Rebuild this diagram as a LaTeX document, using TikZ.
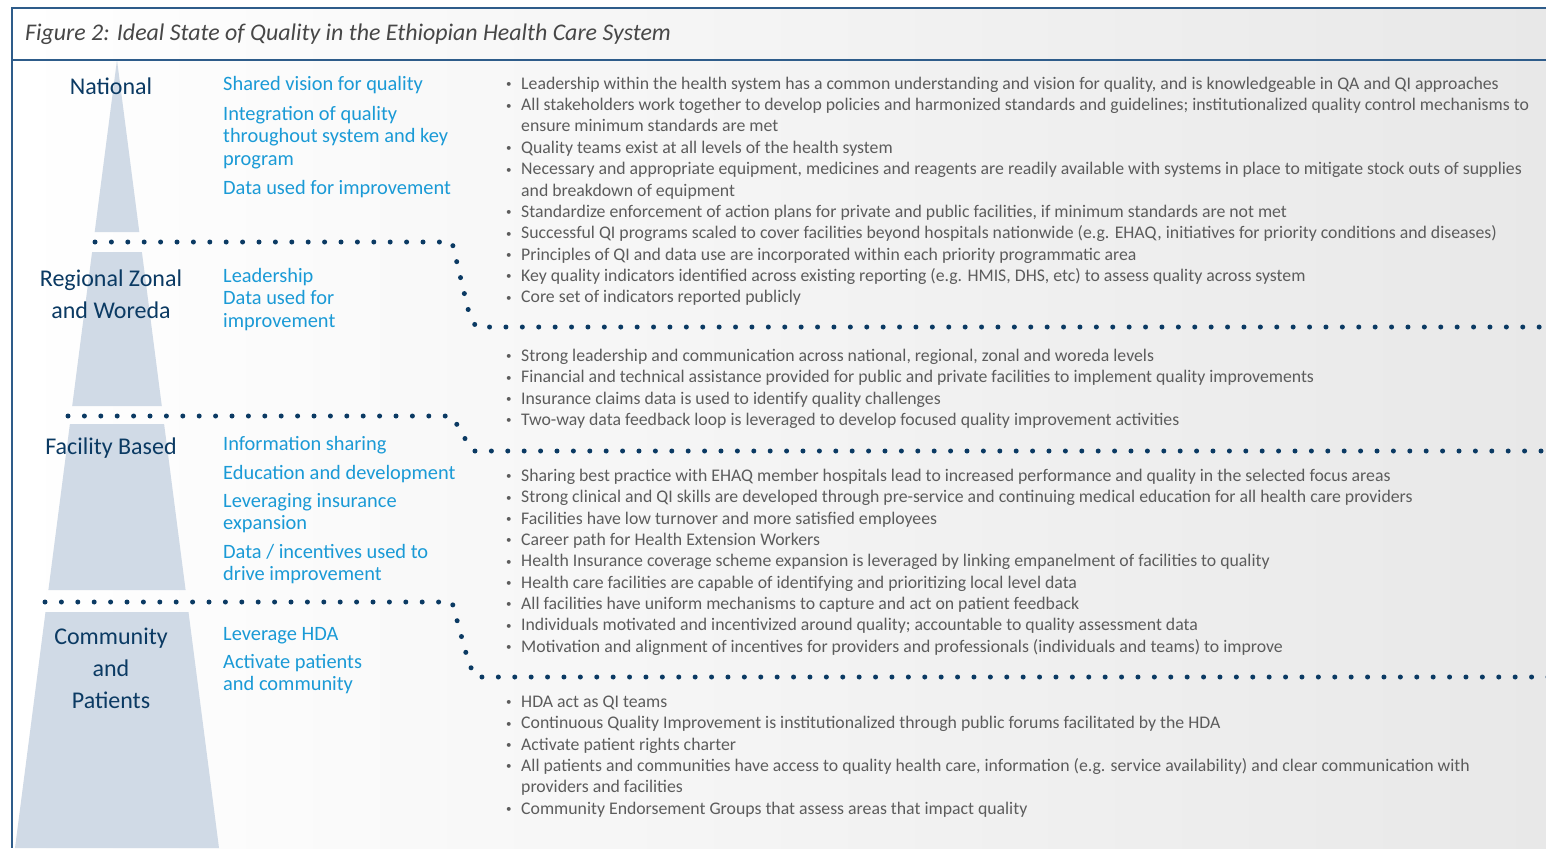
\documentclass[tikz,border=0pt]{standalone}
\usepackage{fontspec}
\setmainfont{Carlito}
\definecolor{navy}{HTML}{0B3A63}
\definecolor{qblue}{HTML}{1A9AD6}
\definecolor{txtgray}{HTML}{5C5C5C}
\definecolor{tri}{HTML}{D0DAE6}
\definecolor{framec}{HTML}{2E5C8A}
\newcommand\bul{\makebox[15pt][l]{\fontsize{11}{11}\selectfont\raisebox{1.5pt}{•}}}
\begin{document}
\begin{tikzpicture}[x=1pt,y=-1pt,
  levellabel/.style={align=center,anchor=base,text=navy,font=\fontsize{24}{32}\selectfont,inner sep=0pt},
  blueitem/.style={align=left,anchor=base west,text=qblue,font=\fontsize{20.4}{22.5}\selectfont,inner sep=0pt},
  bullets/.style={anchor=base west,text=txtgray,font=\fontsize{17.75}{21.35}\selectfont,inner sep=0pt},
  dotline/.style={draw=navy,line width=5pt,line cap=round,dash pattern=on 0pt off 16.4pt},
  tribox/.style={fill=tri,draw=none},
  framel/.style={draw=framec,line width=1.5pt}]
\useasboundingbox (0,0) rectangle (1546,848);
\fill[white] (0,0) rectangle (1546,848);
\shade[left color=white,right color=black!9] (12,8) rectangle (1546,848);
% pyramid
\fill[tribox] (117,60) -- (139.3,232) -- (94.7,232) -- cycle;
\fill[tribox] (92.1,252) -- (141.9,252) -- (161.8,406) -- (72.2,406) -- cycle;
\fill[tribox] (69.9,424) -- (164.1,424) -- (185.6,590) -- (48.4,590) -- cycle;
\fill[tribox] (45.5,612) -- (188.5,612) -- (219,848) -- (15,848) -- cycle;
% frame
\draw[framel] (1546,8) -- (12,8) -- (12,848);
\draw[framel] (12,60) -- (1546,60);
% title
\node[anchor=base west,inner sep=0pt,text=black!72,font=\itshape\fontsize{23.9}{28}\selectfont] (title) at (25,41)
  {Figure 2: Ideal State of Quality in the Ethiopian Health Care System};
% dotted separators
\coordinate (d1a) at (95,242); \coordinate (d1b) at (452,242); \coordinate (d1c) at (469,313); \coordinate (d1d) at (476,327); \coordinate (d1e) at (1552,327);
\coordinate (d2a) at (68,416); \coordinate (d2b) at (452,416); \coordinate (d2c) at (467,442); \coordinate (d2d) at (474,451); \coordinate (d2e) at (1552,451);
\coordinate (d3a) at (45,602); \coordinate (d3b) at (452,602); \coordinate (d3c) at (469,664); \coordinate (d3d) at (476,677); \coordinate (d3e) at (1552,677);
\draw[dotline] (d1a) -- (d1b) -- (d1c) -- (d1d) -- (d1e);
\draw[dotline] (d2a) -- (d2b) -- (d2c) -- (d2d) -- (d2e);
\draw[dotline] (d3a) -- (d3b) -- (d3c) -- (d3d) -- (d3e);
% level labels (base anchor = last line baseline)
\node[levellabel] (lnat) at (111,95) {National};
\node[levellabel] (lreg) at (111,318) {Regional Zonal\\and Woreda};
\node[levellabel] (lfac) at (111,454) {Facility Based};
\node[levellabel] (lcom) at (111,708) {Community\\and\\Patients};
% blue items (base anchor = last line baseline)
\node[blueitem] (b1) at (223,91) {Shared vision for quality};
\node[blueitem] (b2) at (223,165) {Integration of quality\\throughout system and key\\program};
\node[blueitem] (b3) at (223,194) {Data used for improvement};
\node[blueitem] (b4) at (223,327) {Leadership\\Data used for\\improvement};
\node[blueitem] (b5) at (223,450) {Information sharing};
\node[blueitem] (b6) at (223,479) {Education and development};
\node[blueitem] (b7) at (223,529.5) {Leveraging insurance\\expansion};
\node[blueitem] (b8) at (223,580.5) {Data / incentives used to\\drive improvement};
\node[blueitem] (b9) at (223,640) {Leverage HDA};
\node[blueitem] (b10) at (223,690.5) {Activate patients\\and community};
% bullet lists
\node[bullets] (s1) at (506,89.3) {\begin{tabular}[t]{@{}l@{}l@{}}
\bul & Leadership within the health system has a common understanding and vision for quality, and is knowledgeable in QA and QI approaches\\
\bul & All stakeholders work together to develop policies and harmonized standards and guidelines; institutionalized quality control mechanisms to\\
 & ensure minimum standards are met\\
\bul & Quality teams exist at all levels of the health system\\
\bul & Necessary and appropriate equipment, medicines and reagents are readily available with systems in place to mitigate stock outs of supplies\\
 & and breakdown of equipment\\
\bul & Standardize enforcement of action plans for private and public facilities, if minimum standards are not met\\
\bul & Successful QI programs scaled to cover facilities beyond hospitals nationwide (e.g. EHAQ, initiatives for priority conditions and diseases)\\
\bul & Principles of QI and data use are incorporated within each priority programmatic area\\
\bul & Key quality indicators identified across existing reporting (e.g. HMIS, DHS, etc) to assess quality across system\\
\bul & Core set of indicators reported publicly
\end{tabular}};
\node[bullets] (s2) at (506,361.3) {\begin{tabular}[t]{@{}l@{}l@{}}
\bul & Strong leadership and communication across national, regional, zonal and woreda levels\\
\bul & Financial and technical assistance provided for public and private facilities to implement quality improvements\\
\bul & Insurance claims data is used to identify quality challenges\\
\bul & Two-way data feedback loop is leveraged to develop focused quality improvement activities
\end{tabular}};
\node[bullets] (s3) at (506,481.3) {\begin{tabular}[t]{@{}l@{}l@{}}
\bul & Sharing best practice with EHAQ member hospitals lead to increased performance and quality in the selected focus areas\\
\bul & Strong clinical and QI skills are developed through pre-service and continuing medical education for all health care providers\\
\bul & Facilities have low turnover and more satisfied employees\\
\bul & Career path for Health Extension Workers\\
\bul & Health Insurance coverage scheme expansion is leveraged by linking empanelment of facilities to quality\\
\bul & Health care facilities are capable of identifying and prioritizing local level data\\
\bul & All facilities have uniform mechanisms to capture and act on patient feedback\\
\bul & Individuals motivated and incentivized around quality; accountable to quality assessment data\\
\bul & Motivation and alignment of incentives for providers and professionals (individuals and teams) to improve
\end{tabular}};
\node[bullets] (s4) at (506,707.3) {\begin{tabular}[t]{@{}l@{}l@{}}
\bul & HDA act as QI teams\\
\bul & Continuous Quality Improvement is institutionalized through public forums facilitated by the HDA\\
\bul & Activate patient rights charter\\
\bul & All patients and communities have access to quality health care, information (e.g. service availability) and clear communication with\\
 & providers and facilities\\
\bul & Community Endorsement Groups that assess areas that impact quality
\end{tabular}};
\end{tikzpicture}
\end{document}
